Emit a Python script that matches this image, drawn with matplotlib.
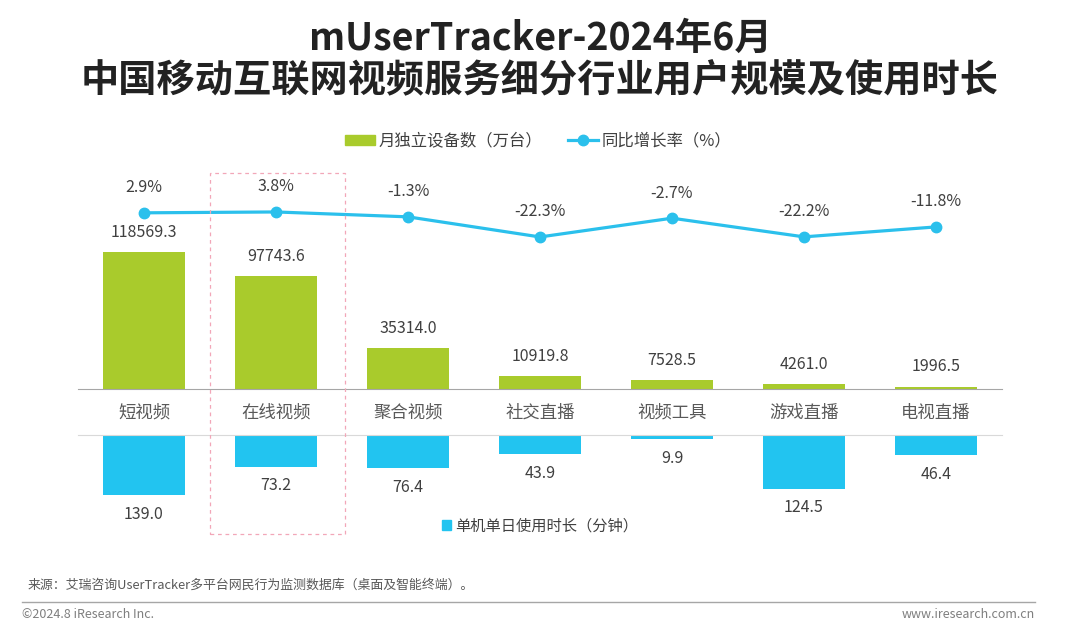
import numpy as np
import matplotlib
matplotlib.use('Agg')
import matplotlib.pyplot as plt
import matplotlib.transforms as mtrans
from matplotlib.patches import Rectangle, Patch
from matplotlib.lines import Line2D

plt.rcParams['font.family'] = ['Noto Sans CJK SC', 'DejaVu Sans']

# ---------------- data ----------------
categories = ['短视频', '在线视频', '聚合视频', '社交直播', '视频工具', '游戏直播', '电视直播']
devices = [118569.3, 97743.6, 35314.0, 10919.8, 7528.5, 4261.0, 1996.5]   # 月独立设备数（万台）
growth = [2.9, 3.8, -1.3, -22.3, -2.7, -22.2, -11.8]                     # 同比增长率（%）
minutes = [139.0, 73.2, 76.4, 43.9, 9.9, 124.5, 46.4]                    # 单机单日使用时长（分钟）

title1 = 'mUserTracker-2024年6月'
title2 = '中国移动互联网视频服务细分行业用户规模及使用时长'
source = '来源：艾瑞咨询UserTracker多平台网民行为监测数据库（桌面及智能终端）。'

green = '#A9CB2C'
cyan = '#22C4F0'
line_c = '#2BC0EC'
txt = '#404040'

W, H = 1080, 629
fig = plt.figure(figsize=(W / 100, H / 100), dpi=100)

def fy(p):  # pixel row -> figure fraction
    return 1 - p / H

x = np.arange(len(categories))
left, right = 78 / W, 924 / W

# top bars
ax = fig.add_axes([left, fy(389), right, (389 - 170) / H])
ax.bar(x, devices, width=0.62, color=green, zorder=2)
ax.set_xlim(-0.5, 6.5)
ax.set_ylim(0, 189600)
for s in ['top', 'right', 'left']:
    ax.spines[s].set_visible(False)
ax.spines['bottom'].set_color('#a6a6a6')
ax.set_xticks([])
ax.set_yticks([])
ax.patch.set_alpha(0)
for i, v in enumerate(devices):
    ax.annotate(f'{v:.1f}', (i, v), xytext=(0, 20), textcoords='offset pixels',
                ha='center', va='center', fontsize=11.5, color=txt)

# growth line
ax2 = ax.twinx()
ax2.plot(x, growth, color=line_c, lw=2.3, marker='o', ms=7.5, zorder=3)
ax2.set_ylim(-181, 47.6)
ax2.set_xlim(-0.5, 6.5)
ax2.axis('off')
for i, v in enumerate(growth):
    ax2.annotate(f'{v:.1f}%', (i, v), xytext=(0, 25), textcoords='offset pixels',
                 ha='center', va='center', fontsize=11.5, color=txt)

# bottom bars
axb = fig.add_axes([left, fy(545), right, (545 - 435) / H])
axb.bar(x, minutes, width=0.62, color=cyan, zorder=2)
axb.set_xlim(-0.5, 6.5)
axb.set_ylim(254, 0)
for s in ['bottom', 'right', 'left']:
    axb.spines[s].set_visible(False)
axb.spines['top'].set_color('#d9d9d9')
axb.set_xticks([])
axb.set_yticks([])
axb.patch.set_alpha(0)
for i, v in enumerate(minutes):
    axb.annotate(f'{v:.1f}', (i, v), xytext=(0, -19), textcoords='offset pixels',
                 ha='center', va='center', fontsize=11.5, color=txt)

# category labels between the two panels
tr = mtrans.blended_transform_factory(ax.transData, fig.transFigure)
for i, c in enumerate(categories):
    fig.text(i, fy(413), c, transform=tr, ha='center', va='center',
             fontsize=12.5, color='#595959')

# highlight box around 在线视频
fig.patches.append(Rectangle((0.5, fy(534)), 1.02, (534 - 173) / H, transform=tr,
                             fill=False, ec='#F2A7B8', lw=0.9, ls=(0, (3, 3))))

# legends
h1 = [Patch(color=green), Line2D([], [], color=line_c, lw=2.3, marker='o', ms=7.5)]
fig.legend(h1, ['月独立设备数（万台）', '同比增长率（%）'], loc='center',
           bbox_to_anchor=(538 / W, fy(141)), ncol=2, frameon=False, fontsize=11.8,
           handlelength=1.85, handleheight=0.6, handletextpad=0.2, columnspacing=1.6,
           labelcolor=txt)
fig.legend([Patch(color=cyan)], ['单机单日使用时长（分钟）'], loc='center',
           bbox_to_anchor=(540 / W, fy(526)), frameon=False, fontsize=11,
           handlelength=0.6, handleheight=0.6, handletextpad=0.3, labelcolor=txt)

# titles
fig.text(0.5, fy(38), title1, ha='center', va='center', fontsize=27,
         fontweight='bold', color='#222222')
fig.text(0.5, fy(81), title2, ha='center', va='center', fontsize=27.5,
         fontweight='bold', color='#222222')

# footer
fig.text(28 / W, fy(585), source, ha='left', va='center', fontsize=9.3, color='#595959')
fig.add_artist(Line2D([22 / W, 1035 / W], [fy(602), fy(602)], color='#a6a6a6', lw=1))
fig.text(22 / W, fy(614), '©2024.8 iResearch Inc.', ha='left', va='center',
         fontsize=9, color='#7f7f7f')
fig.text(1035 / W, fy(614), 'www.iresearch.com.cn', ha='right', va='center',
         fontsize=9, color='#7f7f7f')

fig.savefig('out.png', dpi=100)
